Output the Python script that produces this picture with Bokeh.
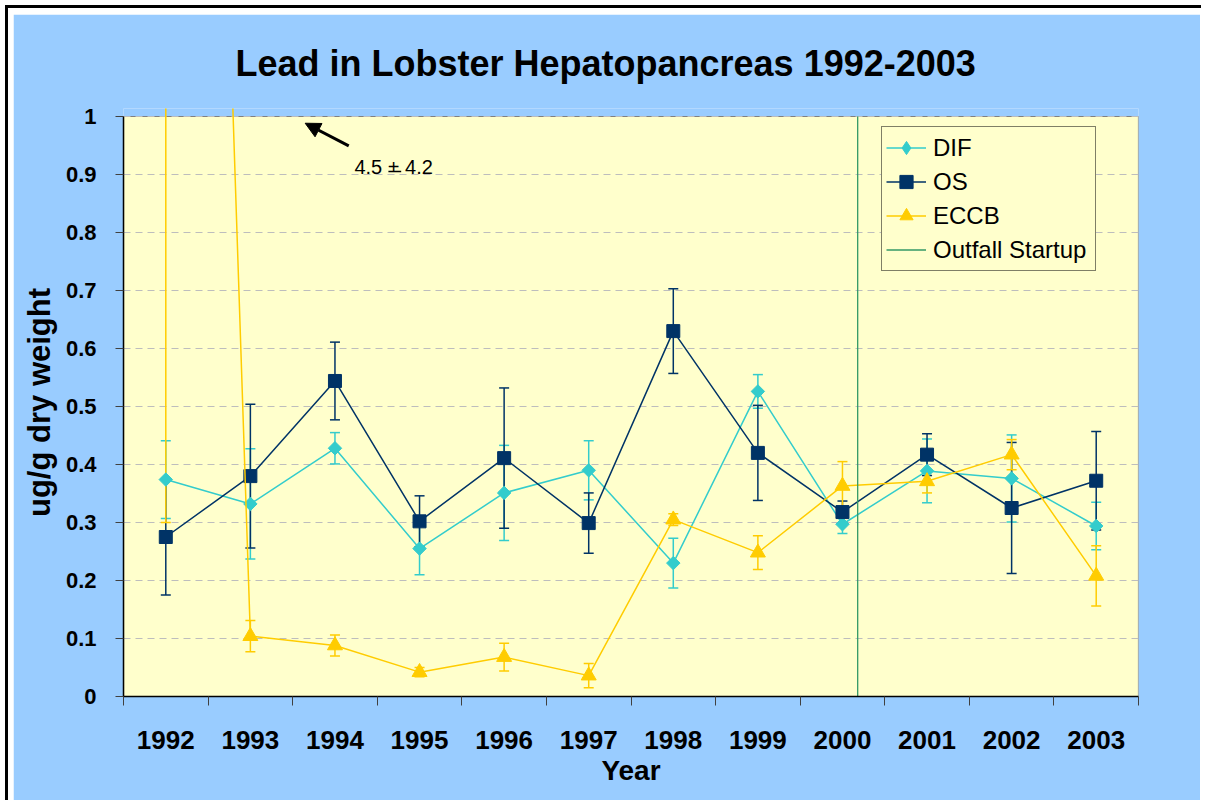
import math
from bokeh.plotting import figure
from bokeh.models import (Range1d, FixedTicker, Whisker, TeeHead, ColumnDataSource,
                          Legend, LegendItem, Arrow, NormalHead, Label, Spacer)
from bokeh.layouts import column, row
from bokeh.embed import file_html
from bokeh.resources import INLINE

# ---------------- data ----------------
years = [1992, 1993, 1994, 1995, 1996, 1997, 1998, 1999, 2000, 2001, 2002, 2003]
dif = [0.374, 0.332, 0.428, 0.255, 0.351, 0.390, 0.230, 0.526, 0.297, 0.389, 0.376, 0.294]
dif_err = [0.067, 0.095, 0.027, 0.045, 0.082, 0.051, 0.043, 0.029, 0.016, 0.055, 0.075, 0.041]
os_vals = [0.275, 0.380, 0.544, 0.302, 0.411, 0.299, 0.630, 0.420, 0.318, 0.417, 0.325, 0.372]
os_err = [0.100, 0.124, 0.067, 0.044, 0.121, 0.052, 0.073, 0.082, 0.019, 0.036, 0.113, 0.085]
eccb = [4.5, 0.104, 0.088, 0.042, 0.068, 0.036, 0.305, 0.248, 0.363, 0.371, 0.417, 0.208]
eccb_err = [4.2, 0.027, 0.018, 0.008, 0.024, 0.021, 0.010, 0.029, 0.042, 0.020, 0.026, 0.052]
outfall_year = 2000.18
y_ticks = [0, 0.1, 0.2, 0.3, 0.4, 0.5, 0.6, 0.7, 0.8, 0.9, 1]
y_labels = ["0", "0.1", "0.2", "0.3", "0.4", "0.5", "0.6", "0.7", "0.8", "0.9", "1"]
title_text = "Lead in Lobster Hepatopancreas 1992-2003"
note_text = "4.5 + 4.2"

# ---------------- style ----------------
BLUE = "#99CCFF"
YEL = "#FFFFCC"
C_DIF = "#33CCCC"
C_OS = "#003366"
C_ECCB = "#FFCC00"
C_OUT = "#339966"
FONT = "Liberation Sans"

x0, x1 = years[0] - 0.5, years[-1] + 0.5
y_top = 1.0138

p = figure(width=1187, height=786, x_range=Range1d(x0, x1), y_range=Range1d(0, y_top),
           output_backend="svg", toolbar_location=None,
           min_border_left=110, min_border_right=62, min_border_top=94, min_border_bottom=104,
           background_fill_color=BLUE, border_fill_color=BLUE, outline_line_color=None)

# plot area box
p.quad(left=[x0], right=[x1], bottom=[y_ticks[0]], top=[y_ticks[-1]], fill_color=YEL,
       line_color="#808080", line_width=1.2, level="image")

# title
p.title.text = title_text
p.title.text_font = FONT
p.title.text_font_size = "36px"
p.title.text_font_style = "bold"
p.title.text_color = "black"
p.title.align = "left"
p.title.offset = 112
p.title.standoff = 49

# grid
p.xgrid.visible = False
p.ygrid.ticker = FixedTicker(ticks=y_ticks)
p.ygrid.grid_line_color = "#BDBDBD"
p.ygrid.grid_line_dash = "7 5"
p.ygrid.grid_line_width = 1

# y axis
ya = p.yaxis[0]
ya.ticker = FixedTicker(ticks=y_ticks)
ya.bounds = (y_ticks[0], y_ticks[-1])
ya.major_label_overrides = dict(zip(y_ticks, y_labels))
ya.axis_line_color = "black"
ya.axis_line_width = 1.5
ya.major_tick_line_color = "#404040"
ya.major_tick_out = 8
ya.major_tick_in = 0
ya.minor_tick_line_color = None
ya.major_label_text_font = FONT
ya.major_label_text_font_size = "22px"
ya.major_label_text_font_style = "bold"
ya.major_label_text_color = "black"
ya.major_label_standoff = 19
ya.axis_label = "ug/g dry weight"
ya.axis_label_text_font = FONT
ya.axis_label_text_font_size = "31px"
ya.axis_label_text_font_style = "bold"
ya.axis_label_text_color = "black"
ya.axis_label_standoff = 6

# x axis
xa = p.xaxis[0]
xa.ticker = FixedTicker(ticks=years, minor_ticks=[y - 0.5 for y in years] + [years[-1] + 0.5])
xa.axis_line_color = "black"
xa.axis_line_width = 1.5
xa.major_tick_line_color = None
xa.major_tick_out = 0
xa.major_tick_in = 0
xa.minor_tick_line_color = "#404040"
xa.minor_tick_out = 9
xa.minor_tick_in = 0
xa.major_label_text_font = FONT
xa.major_label_text_font_size = "26px"
xa.major_label_text_font_style = "bold"
xa.major_label_text_color = "black"
xa.major_label_standoff = 25
xa.axis_label = "Year"
xa.axis_label_text_font = FONT
xa.axis_label_text_font_size = "28px"
xa.axis_label_text_font_style = "bold"
xa.axis_label_text_color = "black"
xa.axis_label_standoff = 3


def add_errors(vals, errs, color):
    src = ColumnDataSource(dict(x=years, upper=[v + e for v, e in zip(vals, errs)],
                                lower=[v - e for v, e in zip(vals, errs)]))
    w = Whisker(source=src, base="x", upper="upper", lower="lower", dimension="height",
                line_color=color, line_width=1.5, level="underlay",
                upper_head=TeeHead(size=10, line_color=color, line_width=1.5),
                lower_head=TeeHead(size=10, line_color=color, line_width=1.5))
    p.add_layout(w)


add_errors(dif, dif_err, C_DIF)
add_errors(os_vals, os_err, C_OS)
add_errors(eccb, eccb_err, C_ECCB)

l_dif = p.line(years, dif, line_color=C_DIF, line_width=1.5)
# diamond glyph (used for the legend swatch), covered by the rotated square below
s_dif_leg = p.scatter(years, dif, marker="diamond", size=12, fill_color=C_DIF, line_color=C_DIF)
s_dif = p.scatter(years, dif, marker="square", angle=math.pi / 4, size=9.5,
                  fill_color=C_DIF, line_color=C_DIF)
l_os = p.line(years, os_vals, line_color=C_OS, line_width=1.5)
s_os = p.scatter(years, os_vals, marker="square", size=13, fill_color=C_OS, line_color=C_OS)
l_ec = p.line(years, eccb, line_color=C_ECCB, line_width=1.5)
s_ec = p.scatter(years, eccb, marker="triangle", size=15, fill_color=C_ECCB, line_color=C_ECCB)
l_out = p.line([outfall_year, outfall_year], [y_ticks[0], y_ticks[-1]], line_color=C_OUT, line_width=1.3)

legend = Legend(items=[LegendItem(label="DIF", renderers=[l_dif, s_dif_leg]),
                       LegendItem(label="OS", renderers=[l_os, s_os]),
                       LegendItem(label="ECCB", renderers=[l_ec, s_ec]),
                       LegendItem(label="Outfall Startup", renderers=[l_out])],
                location=(758, 425), margin=0, padding=4, spacing=1,
                glyph_width=40, glyph_height=33, label_height=33, label_width=158,
                label_standoff=7,
                label_text_font=FONT, label_text_font_size="24px", label_text_color="black",
                background_fill_color=YEL, background_fill_alpha=1.0,
                border_line_color="black", border_line_width=1)
p.add_layout(legend)

# annotation for the off-scale 1992 ECCB value
p.add_layout(Arrow(end=NormalHead(size=15, fill_color="black", line_color="black"),
                   x_start=1994.163, y_start=0.9495, x_end=1993.648, y_end=0.9884,
                   line_color="black", line_width=3))
p.add_layout(Label(x=1994.23, y=0.9126, text=note_text, text_font=FONT, text_color="black",
                   text_font_size="20px", text_baseline="alphabetic", text_align="left"))
p.line([1994.632, 1994.783], [0.905, 0.905], line_color="black", line_width=1.5)

# outer frame: white gap and black border lines (left and top) around the chart
top_line = Spacer(width=1196, height=3, styles={"background-color": "black"})
left_line = Spacer(width=3, height=792, styles={"background-color": "black"})
inner = column(Spacer(height=6), row(Spacer(width=5), p))
layout = row(Spacer(width=5), column(Spacer(height=5), top_line, row(left_line, inner)))

open("out.html", "w").write(file_html(layout, INLINE))
